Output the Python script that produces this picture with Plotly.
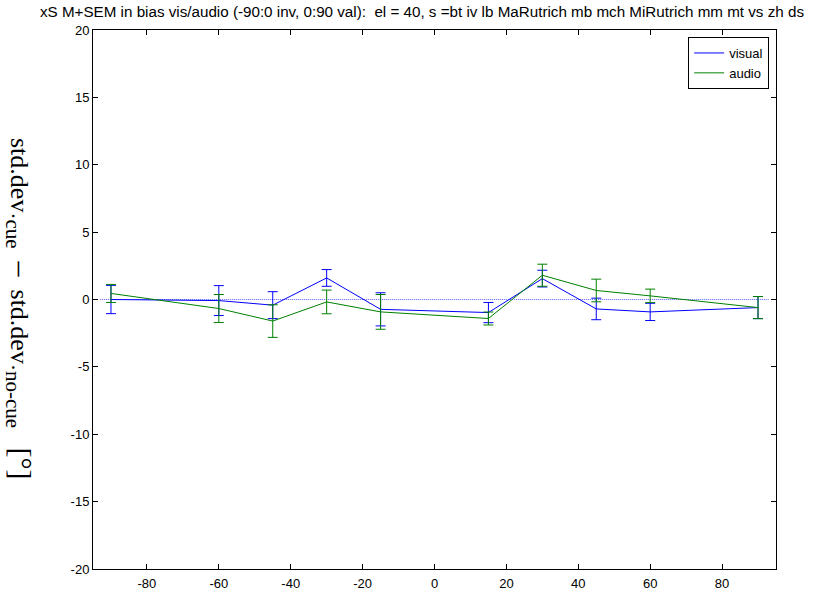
import plotly.graph_objects as go

# ---- data ----
azimuth = [-90, -60, -45, -30, -15, 15, 30, 45, 60, 90]
visual_mean = [0.00, -0.08, -0.42, 1.60, -0.73, -0.97, 1.55, -0.70, -0.92, -0.60]
visual_sem = [1.05, 1.11, 1.00, 0.62, 1.23, 0.75, 0.62, 0.80, 0.64, 0.82]
audio_mean = [0.45, -0.67, -1.60, -0.18, -0.92, -1.41, 1.80, 0.67, 0.27, -0.60]
audio_sem = [0.67, 1.04, 1.21, 0.88, 1.29, 0.48, 0.82, 0.84, 0.50, 0.82]

x_tickvals = [-80, -60, -40, -20, 0, 20, 40, 60, 80]
x_ticktext = ["-80", "-60", "-40", "-20", "0", "20", "40", "60", "80"]
y_tickvals = [-20, -15, -10, -5, 0, 5, 10, 15, 20]
y_ticktext = ["-20", "-15", "-10", "-5", "0", "5", "10", "15", "20"]

title_text = ("xS M+SEM in bias vis/audio (-90:0 inv, 0:90 val):&nbsp; el = 40, "
              "s =bt iv lb MaRutrich mb mch MiRutrich mm mt vs zh ds")
sub_style = "font-size:21px"
ylabel = ("std.dev<sub><span style='%s'>·cue</span></sub>&nbsp; <span style='font-size:30px'>–</span>&nbsp; "
          "std.dev<sub><span style='%s'>·no-cue</span></sub>&nbsp;&nbsp; "
          "<span style='font-size:30px'>[°]</span>") % (sub_style, sub_style)

fig = go.Figure()

# zero reference line
fig.add_shape(type="line", x0=-93, x1=93, y0=0, y1=0, xref="x", yref="y",
              line=dict(color="rgb(90,90,255)", width=1, dash="1px,1px"), layer="below")

fig.add_trace(go.Scatter(
    x=azimuth, y=visual_mean, name="visual", mode="lines",
    line=dict(color="rgb(0,0,255)", width=1),
    error_y=dict(type="data", array=visual_sem, visible=True,
                 color="rgb(0,0,255)", thickness=1, width=5),
))
fig.add_trace(go.Scatter(
    x=azimuth, y=audio_mean, name="audio", mode="lines",
    line=dict(color="rgb(0,128,0)", width=1),
    error_y=dict(type="data", array=audio_sem, visible=True,
                 color="rgb(0,128,0)", thickness=1, width=5),
))

axis_common = dict(
    showline=True, linecolor="black", linewidth=1, mirror="ticks",
    ticks="inside", ticklen=5, tickcolor="black", tickwidth=1,
    showgrid=False, zeroline=False, automargin=False,
    tickfont=dict(family="Liberation Sans, Arial", size=13, color="black"),
)

fig.add_annotation(
    text=ylabel, textangle=90, xref="paper", yref="paper",
    x=(20 - 93) / 683, y=(569 - 309) / 539, xanchor="center", yanchor="middle",
    showarrow=False,
    font=dict(family="Liberation Serif, Times New Roman", size=26, color="black"),
)

fig.update_layout(
    width=825, height=592,
    margin=dict(l=93, r=49, t=30, b=23, autoexpand=False),
    paper_bgcolor="white", plot_bgcolor="white",
    title=dict(text=title_text, x=422 / 825, xanchor="center",
               y=1 - 12 / 592, yanchor="middle",
               font=dict(family="Liberation Sans, Arial", size=15.2, color="black")),
    xaxis=dict(range=[-95, 95], tickvals=x_tickvals, ticktext=x_ticktext,
               ticklabelstandoff=2, **axis_common),
    yaxis=dict(range=[-20, 20], tickvals=y_tickvals, ticktext=y_ticktext, **axis_common),
    legend=dict(x=0.99, xanchor="right", y=0.987, yanchor="top",
                bordercolor="black", borderwidth=1, bgcolor="white",
                font=dict(family="Liberation Sans, Arial", size=13, color="black"),
                itemwidth=30, tracegroupgap=0),
    showlegend=True,
)

fig.write_html("out.html")
